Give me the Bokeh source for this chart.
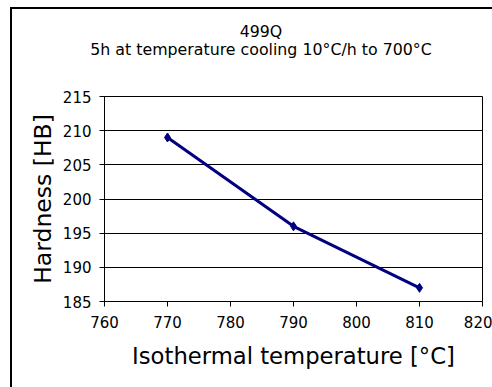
from bokeh.plotting import figure
from bokeh.models import Div, Range1d, FixedTicker
from bokeh.layouts import column
from bokeh.embed import file_html
from bokeh.resources import INLINE

temps = [770, 790, 810]
hardness = [209, 196, 187]
x_ticks = [760, 770, 780, 790, 800, 810, 820]
y_ticks = [185, 190, 195, 200, 205, 210, 215]
title1 = "499Q"
title2 = "5h at temperature cooling 10\u00b0C/h to 700\u00b0C"
xlabel = "Isothermal temperature [\u00b0C]"
ylabel = "Hardness [HB]"

FONT = "DejaVu Sans"
W = 482
TITLE_H = 60
PH = 318

div = Div(text=f"<div style='position:absolute;left:49px;top:14px;width:400px;text-align:center;"
               f"font-family:\"{FONT}\";font-size:15.8px;line-height:18px;color:black'>"
               f"{title1}<br>{title2}</div>",
          width=W - 2, height=TITLE_H, margin=0)

p = figure(width=W - 2, height=PH, output_backend="svg", toolbar_location=None,
           x_range=Range1d(760, 820), y_range=Range1d(185, 215),
           min_border_left=92, min_border_right=10, min_border_top=27, min_border_bottom=86,
           margin=0)
p.background_fill_color = "white"
p.border_fill_color = "white"
p.outline_line_color = "black"
p.outline_line_width = 1

p.line(temps, hardness, line_color="#000080", line_width=3)
p.scatter(temps, hardness, marker="diamond", size=9, color="#000080")

p.xaxis.ticker = FixedTicker(ticks=x_ticks)
p.yaxis.ticker = FixedTicker(ticks=y_ticks)
for ax in (p.xaxis[0], p.yaxis[0]):
    ax.axis_line_color = "black"
    ax.major_tick_line_color = "black"
    ax.major_tick_out = 5
    ax.major_tick_in = 0
    ax.minor_tick_line_color = None
    ax.major_label_text_font = FONT
    ax.major_label_text_font_size = "15px"
    ax.major_label_text_color = "black"
    ax.axis_label_text_font = FONT
    ax.axis_label_text_font_style = "normal"
    ax.axis_label_text_color = "black"
p.xaxis.axis_label_text_font_size = "22.7px"
p.yaxis.axis_label_text_font_size = "23.5px"
p.xaxis.axis_label = xlabel
p.yaxis.axis_label = ylabel
p.xaxis.major_label_standoff = 9
p.yaxis.major_label_standoff = 8
p.xaxis.axis_label_standoff = 12
p.yaxis.axis_label_standoff = 3

p.xgrid.grid_line_color = None
p.ygrid.grid_line_color = "black"
p.ygrid.grid_line_width = 1

layout = column(div, p, margin=(7, 0, 0, 10), spacing=0,
                styles={"border-left": "2px solid black", "border-top": "2px solid black",
                        "background-color": "white"})

open("out.html", "w").write(file_html(layout, INLINE))
